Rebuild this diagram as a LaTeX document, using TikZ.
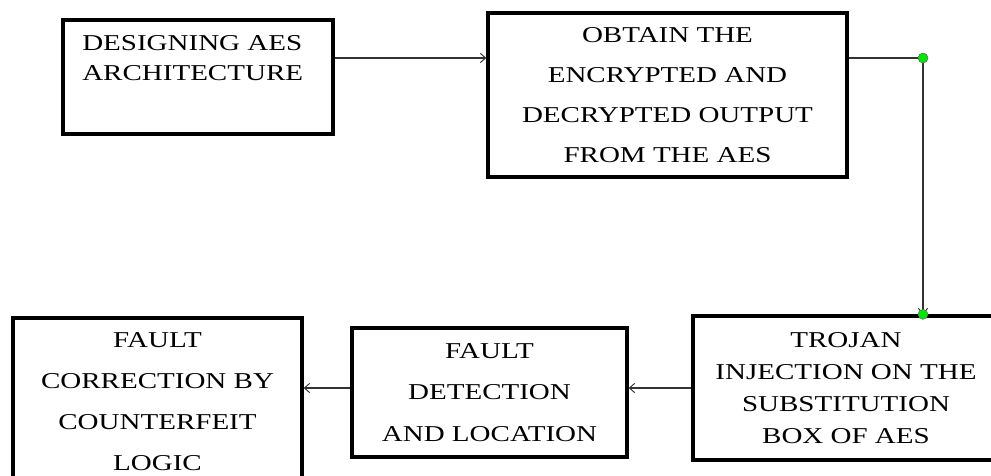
\documentclass[tikz,border=0pt]{standalone}
\usepackage{fontspec}
\setmainfont[FakeStretch=1.28]{Liberation Serif}
\usetikzlibrary{arrows.meta}
\definecolor{dotgreen}{RGB}{0,230,0}
\tikzset{
  box/.style={draw=black, line width=2.5pt, rectangle, inner sep=0pt, align=center},
  conn/.style={draw=black!80, line width=0.8pt},
  arr/.style={conn, -{Straight Barb[length=4pt,width=7pt,line width=0.7pt]}},
  gdot/.style={circle, fill=dotgreen, draw=black!60, line width=0.4pt, inner sep=0pt, minimum size=7.5pt},
}
\newcommand{\bxfont}[1]{\fontsize{17}{#1}\selectfont}
\begin{document}
\begin{tikzpicture}[x=0.75pt,y=-0.75pt]
\path[use as bounding box] (0,0) rectangle (991,475);
\clip (0,0) rectangle (991,475);

% boxes
\node[box, minimum width=270*0.75pt, minimum height=114*0.75pt] (b1) at (198,77) {};
\node[anchor=north west, align=left, inner sep=0pt, font=\bxfont{22.5pt}] (t1) at (82,35.5) {DESIGNING AES\\ARCHITECTURE};

\node[box, minimum width=359*0.75pt, minimum height=164*0.75pt, font=\bxfont{30pt}] (b2) at (667.5,95)
  {OBTAIN THE\\ENCRYPTED AND\\DECRYPTED OUTPUT\\FROM THE AES};

\node[box, minimum width=306*0.75pt, minimum height=144*0.75pt, font=\bxfont{23.8pt}] (b3) at (846,388)
  {TROJAN\\INJECTION ON THE\\SUBSTITUTION\\BOX OF AES};

\node[box, minimum width=275*0.75pt, minimum height=129*0.75pt, font=\bxfont{31pt}] (b4) at (489.5,392.5)
  {FAULT\\DETECTION\\AND LOCATION};

\node[box, minimum width=289*0.75pt, minimum height=168*0.75pt, font=\bxfont{30.75pt}] (b5) at (157.5,402)
  {FAULT\\CORRECTION BY\\COUNTERFEIT\\LOGIC};

% connectors
\coordinate (a1) at ([yshift=19*0.75pt]b1.east);
\draw[arr] (a1) -- (a1 -| b2.west);

\coordinate (d1) at (923,58);
\coordinate (d2) at (d1 |- b3.north);
\draw[conn] (b2.east |- d1) -- (d1);
\draw[arr] (d1) -- (d2);
\node[gdot] (g1) at (d1) {};
\node[gdot] (g2) at (d2) {};

\coordinate (a3) at (b3.west);
\draw[arr] (a3) -- (a3 -| b4.east);
\coordinate (a4) at (b4.west |- a3);
\draw[arr] (a4) -- (a4 -| b5.east);
\end{tikzpicture}
\end{document}
